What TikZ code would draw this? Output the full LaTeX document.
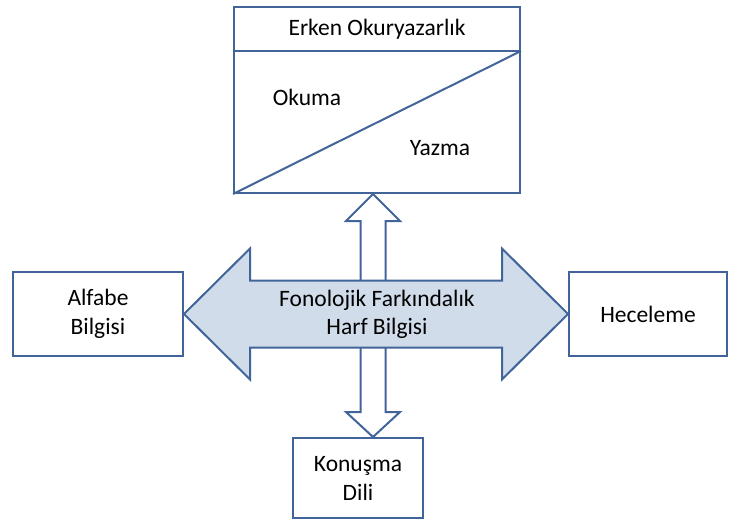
\documentclass[tikz,border=0pt]{standalone}
\usepackage{fontspec}
\setmainfont{Carlito}
\usetikzlibrary{positioning,calc}
\definecolor{kenar}{HTML}{41659A}
\definecolor{dolgu}{HTML}{D0DCEA}
\tikzset{
  kutu/.style={draw=kenar,line width=2pt,fill=white,align=center,inner sep=0pt,
    font=\fontsize{23.5}{29}\selectfont},
  yazi/.style={align=center,font=\fontsize{23.5}{28}\selectfont},
  blok/.style={draw=kenar,line width=2pt,line join=miter}
}

\begin{document}
\begin{tikzpicture}[x=1pt,y=-1pt]
    \useasboundingbox (0,0) rectangle (730,522);
    % kutular
    \node[kutu,minimum width=286pt,minimum height=186pt] (okur) at (377,100) {};
    \node[kutu,minimum width=170pt,minimum height=84pt] (alfabe) at (98,314) {Alfabe\\Bilgisi};
    \node[kutu,minimum width=158pt,minimum height=84pt] (hece) at (648,314) {Heceleme};
    \node[kutu,minimum width=130pt,minimum height=80pt] (konusma) at (358,478) {Konuşma\\Dili};
    \coordinate (baslik-sol) at ($(okur.north west)+(0,45)$);
    \coordinate (baslik-sag) at ($(okur.north east)+(0,45)$);
    \draw[kenar,line width=2pt] (baslik-sol) -- (baslik-sag);
    \draw[kenar,line width=2pt] (okur.south west) -- (baslik-sag);
    \node[yazi] (baslik) at ($(okur.north)+(0,23)$) {Erken Okuryazarlık};
    \node[yazi] (okuma) at (307,97) {Okuma};
    \node[yazi] (yazma) at (440,148) {Yazma};
    % dikey ok
    \coordinate (ust-uc) at (okur.south -| 373,0);
    \coordinate (alt-uc) at (konusma.north -| 373,0);
    \draw[blok,fill=white] (ust-uc) -- ++(27,27) -- ++(-14.5,0) |- ($(alt-uc)+(12.5,-25)$)
      -- ++(14.5,0) -- (alt-uc) -- ++(-27,-25) -- ++(14.5,0) |- ($(ust-uc)+(-12.5,27)$)
      -- ++(-14.5,0) -- cycle;
    % yatay ok
    \coordinate (sol-uc) at (alfabe.east);
    \coordinate (sag-uc) at (hece.west);
    \draw[blok,fill=dolgu] (sol-uc) -- ++(66,-65.5) -- ++(0,32) -| ($(sag-uc)+(-66,-65.5)$)
      -- (sag-uc) -- ++(-66,65.5) -- ++(0,-32) -| ($(sol-uc)+(66,65.5)$) -- cycle;
    \node[yazi] (fonoloji) at (377,314) {Fonolojik Farkındalık\\Harf Bilgisi};
  \end{tikzpicture}
\end{document}
